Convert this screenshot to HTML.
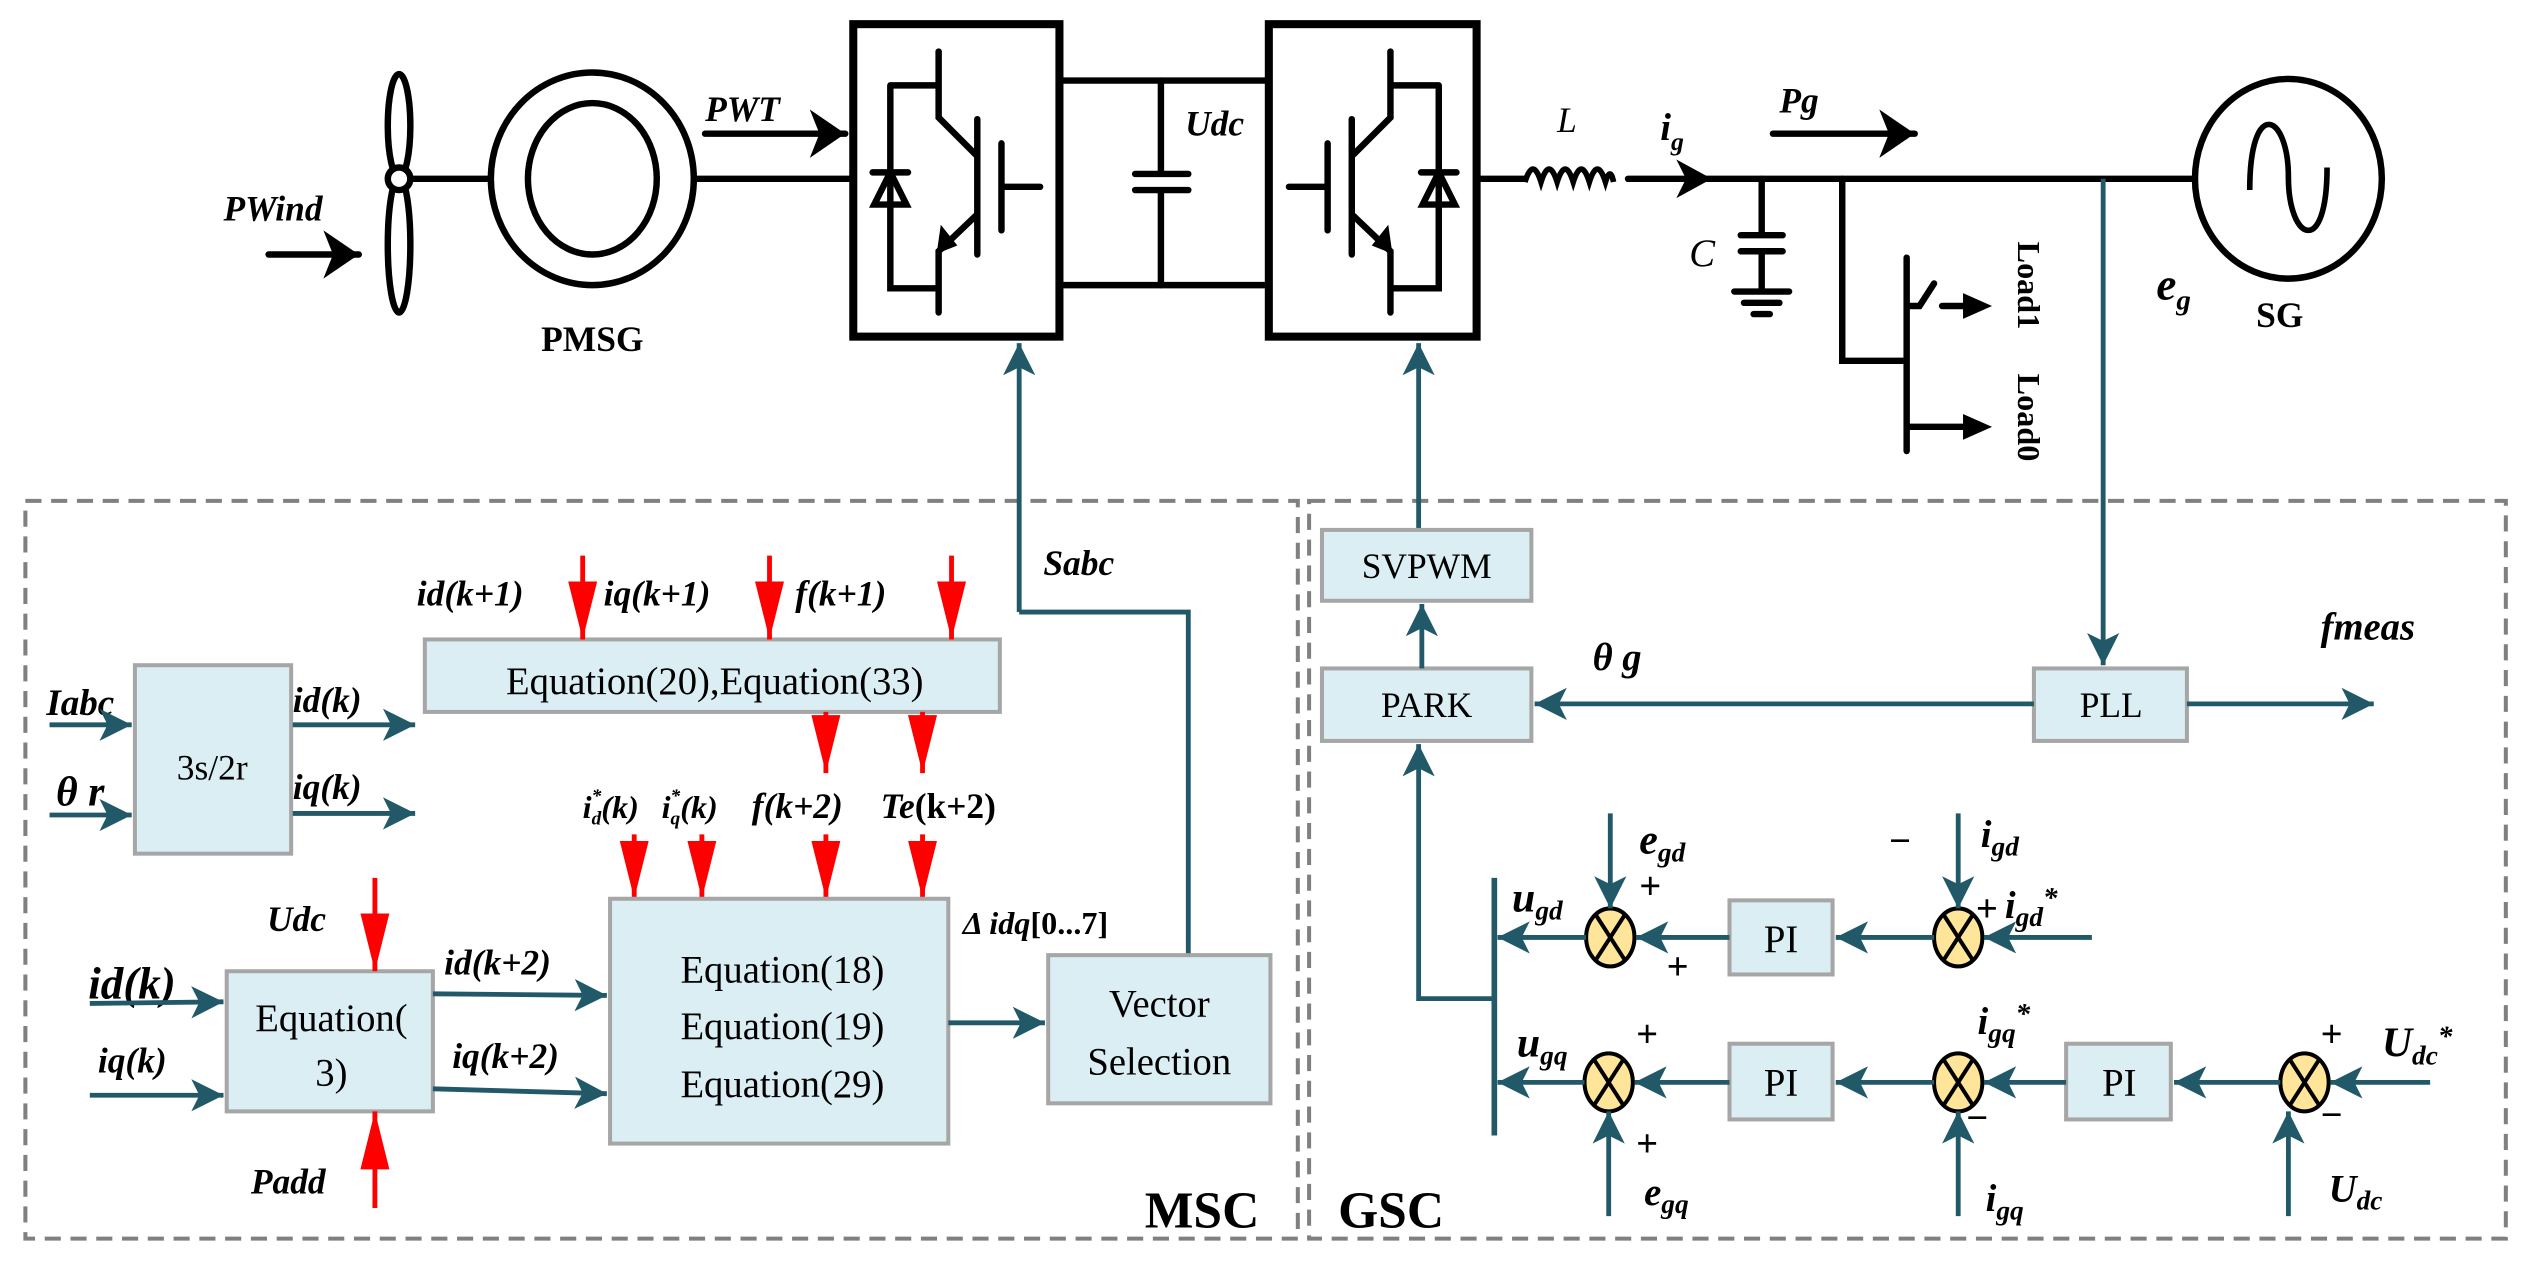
<!DOCTYPE html>
<html><head><meta charset="utf-8"><style>
html,body{margin:0;padding:0;background:#fff;}
svg{display:block;}
text{font-family:"Liberation Serif",serif;}
.lb{font-weight:bold;font-style:italic;}
.bx{fill:#dbeef4;stroke:#a6a6a6;stroke-width:2.5;}
.t{stroke:#215968;stroke-width:3;fill:none;}
.k{stroke:#000;stroke-width:4;fill:none;stroke-linecap:round;}
.r{stroke:#ff0000;stroke-width:3;}
</style></head><body>
<svg width="2528" height="1266" viewBox="0 0 1568 786" xmlns="http://www.w3.org/2000/svg" font-family="Liberation Serif, serif">
<defs>
<marker id="ta" markerUnits="userSpaceOnUse" markerWidth="24" markerHeight="20" refX="20" refY="10" orient="auto"><path d="M0,0 L20,10 L0,20 L5,10 Z" fill="#215968"/></marker>
<marker id="ra" markerUnits="userSpaceOnUse" markerWidth="40" markerHeight="22" refX="36" refY="10" orient="auto"><path d="M0,1 L36,10 L0,19 Z" fill="#ff0000"/></marker>
<marker id="ka" markerUnits="userSpaceOnUse" markerWidth="24" markerHeight="30" refX="22" refY="15" orient="auto"><path d="M0,0 L22,15 L0,30 L6,15 Z" fill="#000"/></marker>
<g id="igbt">
 <path class="k" d="M582,32 V73 L605,96 M606,74 V158 M605,134 L582,156 V194 M552,53 H582 M552,53 V179 H582 M621,89 V143 M621,116 H645" />
 <path d="M582,156 L584,142 L592,152 Z" fill="#000" stroke="#000" stroke-width="2"/>
 <path class="k" d="M541,107 H563 M552,107 L542,127 H562 Z" />
</g>
</defs>

<rect x="15" y="311" width="790" height="458" fill="none" stroke="#808080" stroke-width="2.5" stroke-dasharray="10,6"/>
<rect x="812" y="311" width="743" height="458" fill="none" stroke="#808080" stroke-width="2.5" stroke-dasharray="10,6"/>

<ellipse cx="247" cy="78" rx="7" ry="32" class="k"/>
<ellipse cx="247" cy="152" rx="7" ry="42" class="k"/>
<circle cx="247" cy="111" r="7" fill="#fff" stroke="#000" stroke-width="4"/>
<line x1="254" y1="111" x2="303" y2="111" class="k"/>
<text x="138" y="137" class="lb" font-size="22">PWind</text>
<line x1="166" y1="158" x2="222" y2="158" class="k" marker-end="url(#ka)"/>
<ellipse cx="367" cy="111" rx="63" ry="66" class="k"/>
<ellipse cx="367" cy="111" rx="40" ry="47" class="k"/>
<text x="367" y="218" text-anchor="middle" font-weight="bold" font-size="22">PMSG</text>
<line x1="430" y1="111" x2="529" y2="111" class="k"/>
<text x="437" y="75" class="lb" font-size="22">PWT</text>
<line x1="437" y1="83" x2="524" y2="83" class="k" marker-end="url(#ka)"/>

<rect x="529" y="15" width="128" height="194" fill="none" stroke="#000" stroke-width="5"/>
<rect x="787" y="15" width="129" height="194" fill="none" stroke="#000" stroke-width="5"/>
<use href="#igbt"/>
<use href="#igbt" transform="translate(1444.5,0) scale(-1,1)"/>
<line x1="657" y1="50" x2="787" y2="50" class="k"/>
<line x1="657" y1="177" x2="787" y2="177" class="k"/>
<path class="k" d="M720,50 V108 M704,108 H737 M704,118 H737 M720,118 V177"/>
<text x="735" y="84" class="lb" font-size="22">Udc</text>

<line x1="916" y1="111" x2="946" y2="111" class="k"/>
<path d="M946,113 q5,-16 10,0 q5,-16 10,0 q5,-16 10,0 q5,-16 10,0 q5,-16 10,0 q3,-10 5,0" fill="none" stroke="#000" stroke-width="3.5"/>
<line x1="1010" y1="111" x2="1362" y2="111" class="k"/>
<path d="M1040,99 L1062,111 L1040,123 L1046,111 Z" fill="#000"/>
<text x="966" y="82" font-style="italic" font-size="22">L</text>
<text x="1030" y="87" class="lb" font-size="24">i<tspan font-size="16" dy="6">g</tspan></text>
<text x="1104" y="70" class="lb" font-size="22">Pg</text>
<line x1="1100" y1="83" x2="1188" y2="83" class="k" marker-end="url(#ka)"/>
<path class="k" d="M1093,111 V146 M1080,146 H1106 M1080,156 H1106 M1093,156 V181 M1076,181 H1110 M1082,188 H1104 M1088,195 H1098"/>
<text x="1048" y="165" font-style="italic" font-size="24">C</text>
<path class="k" d="M1143,111 V224 H1182"/>
<line x1="1183" y1="160" x2="1183" y2="280" class="k"/>
<path class="k" d="M1183,190 H1191 L1200,176 M1205,190 H1220"/>
<path d="M1218,182 L1236,190 L1218,198 Z" fill="#000"/>
<path class="k" d="M1183,265 H1220"/>
<path d="M1218,257 L1236,265 L1218,273 Z" fill="#000"/>
<text transform="translate(1252,150) rotate(90)" font-weight="bold" font-size="20">Load1</text>
<text transform="translate(1252,232) rotate(90)" font-weight="bold" font-size="20">Load0</text>
<ellipse cx="1420" cy="111" rx="58" ry="62" class="k"/>
<path d="M1396,118 C1396,60 1420,70 1420,110 C1420,150 1444,160 1444,104" fill="none" stroke="#000" stroke-width="3.5"/>
<text x="1338" y="186" class="lb" font-size="28">e<tspan font-size="18" dy="6">g</tspan></text>
<text x="1400" y="203" font-weight="bold" font-size="22">SG</text>

<line x1="632" y1="380" x2="632" y2="213" class="t" marker-end="url(#ta)"/>
<polyline points="632,380 737,380 737,593" class="t"/>
<text x="647" y="357" class="lb" font-size="22">Sabc</text>
<line x1="880" y1="336" x2="880" y2="213" class="t" marker-end="url(#ta)"/>
<line x1="1305" y1="111" x2="1305" y2="413" class="t" marker-end="url(#ta)"/>

<rect x="263" y="397" width="357" height="45" class="bx"/>
<text x="443" y="431" text-anchor="middle" font-size="24">Equation(20),Equation(33)</text>
<text x="258" y="376" class="lb" font-size="22">id(k+1)</text>
<text x="374" y="376" class="lb" font-size="22">iq(k+1)</text>
<text x="493" y="376" class="lb" font-size="22">f(k+1)</text>
<line x1="361" y1="345" x2="361" y2="397" class="r" marker-end="url(#ra)"/>
<line x1="477" y1="345" x2="477" y2="397" class="r" marker-end="url(#ra)"/>
<line x1="590" y1="345" x2="590" y2="397" class="r" marker-end="url(#ra)"/>
<line x1="512" y1="442" x2="512" y2="480" class="r" marker-end="url(#ra)"/>
<line x1="572" y1="442" x2="572" y2="480" class="r" marker-end="url(#ra)"/>

<rect x="83" y="413" width="97" height="117" class="bx"/>
<text x="131" y="484" text-anchor="middle" font-size="22">3s/2r</text>
<text x="28" y="444" class="lb" font-size="23">Iabc</text>
<line x1="30" y1="450" x2="81" y2="450" class="t" marker-end="url(#ta)"/>
<text x="34" y="500" class="lb" font-size="26">θ r</text>
<line x1="30" y1="506" x2="81" y2="506" class="t" marker-end="url(#ta)"/>
<text x="181" y="442" class="lb" font-size="22">id(k)</text>
<line x1="181" y1="450" x2="257" y2="450" class="t" marker-end="url(#ta)"/>
<text x="181" y="496" class="lb" font-size="22">iq(k)</text>
<line x1="181" y1="505" x2="257" y2="505" class="t" marker-end="url(#ta)"/>

<text x="361" y="508" class="lb" font-size="20">i<tspan font-size="12" dy="4">d</tspan><tspan font-size="12" dy="-14" dx="-6">*</tspan><tspan dy="10">(k)</tspan></text>
<text x="410" y="508" class="lb" font-size="20">i<tspan font-size="12" dy="4">q</tspan><tspan font-size="12" dy="-14" dx="-6">*</tspan><tspan dy="10">(k)</tspan></text>
<text x="466" y="508" class="lb" font-size="22">f(k+2)</text>
<text x="546" y="508" class="lb" font-size="22">Te<tspan font-style="normal">(k+2)</tspan></text>
<line x1="393" y1="518" x2="393" y2="558" class="r" marker-end="url(#ra)"/>
<line x1="435" y1="518" x2="435" y2="558" class="r" marker-end="url(#ra)"/>
<line x1="512" y1="518" x2="512" y2="558" class="r" marker-end="url(#ra)"/>
<line x1="572" y1="518" x2="572" y2="558" class="r" marker-end="url(#ra)"/>

<rect x="378" y="558" width="210" height="152" class="bx"/>
<text x="485" y="610" text-anchor="middle" font-size="24">Equation(18)</text>
<text x="485" y="645" text-anchor="middle" font-size="24">Equation(19)</text>
<text x="485" y="681" text-anchor="middle" font-size="24">Equation(29)</text>
<text x="597" y="580" class="lb" font-size="20">Δ idq<tspan font-style="normal">[0...7]</tspan></text>
<rect x="650" y="593" width="138" height="92" class="bx"/>
<text x="719" y="631" text-anchor="middle" font-size="24">Vector</text>
<text x="719" y="667" text-anchor="middle" font-size="24">Selection</text>
<line x1="588" y1="635" x2="648" y2="635" class="t" marker-end="url(#ta)"/>

<rect x="140" y="603" width="128" height="87" class="bx"/>
<text x="205" y="640" text-anchor="middle" font-size="24">Equation(</text>
<text x="205" y="674" text-anchor="middle" font-size="24">3)</text>
<text x="165" y="578" class="lb" font-size="22">Udc</text>
<line x1="232" y1="545" x2="232" y2="603" class="r" marker-end="url(#ra)"/>
<text x="155" y="741" class="lb" font-size="22">Padd</text>
<line x1="232" y1="750" x2="232" y2="690" class="r" marker-end="url(#ra)"/>
<text x="54" y="620" class="lb" font-size="28">id(k)</text>
<line x1="55" y1="623" x2="138" y2="622" class="t" marker-end="url(#ta)"/>
<text x="60" y="666" class="lb" font-size="22">iq(k)</text>
<line x1="55" y1="680" x2="138" y2="680" class="t" marker-end="url(#ta)"/>
<text x="275" y="605" class="lb" font-size="22">id(k+2)</text>
<line x1="268" y1="617" x2="376" y2="618" class="t" marker-end="url(#ta)"/>
<text x="280" y="663" class="lb" font-size="22">iq(k+2)</text>
<line x1="268" y1="676" x2="376" y2="679" class="t" marker-end="url(#ta)"/>
<text x="710" y="762" font-weight="bold" font-size="32">MSC</text>

<rect x="820" y="329" width="130" height="44" class="bx"/>
<text x="885" y="359" text-anchor="middle" font-size="22">SVPWM</text>
<rect x="820" y="415" width="130" height="45" class="bx"/>
<text x="885" y="445" text-anchor="middle" font-size="22">PARK</text>
<rect x="1262" y="415" width="95" height="45" class="bx"/>
<text x="1310" y="445" text-anchor="middle" font-size="22">PLL</text>
<line x1="882" y1="415" x2="882" y2="375" class="t" marker-end="url(#ta)"/>
<line x1="1262" y1="437" x2="952" y2="437" class="t" marker-end="url(#ta)"/>
<line x1="1357" y1="437" x2="1473" y2="437" class="t" marker-end="url(#ta)"/>
<text x="988" y="416" class="lb" font-size="24">θ g</text>
<text x="1440" y="397" class="lb" font-size="24">fmeas</text>
<polyline points="927,620 880,620 880,462" class="t" marker-end="url(#ta)"/>
<line x1="927" y1="545" x2="927" y2="705" stroke="#215968" stroke-width="3.5"/>

<rect x="1073" y="559" width="64" height="46" class="bx"/>
<text x="1105" y="591" text-anchor="middle" font-size="24">PI</text>
<rect x="1073" y="648" width="64" height="47" class="bx"/>
<text x="1105" y="680" text-anchor="middle" font-size="24">PI</text>
<rect x="1282" y="648" width="65" height="47" class="bx"/>
<text x="1315" y="680" text-anchor="middle" font-size="24">PI</text>

<g stroke="#000" stroke-width="2.5" fill="#ffe599">
<ellipse cx="999" cy="582" rx="15" ry="18"/><ellipse cx="1215" cy="582" rx="15" ry="18"/>
<ellipse cx="998" cy="672" rx="15" ry="18"/><ellipse cx="1215" cy="672" rx="15" ry="18"/>
<ellipse cx="1430" cy="672" rx="15" ry="18"/>
</g>
<g stroke="#000" stroke-width="2.5">
<path d="M990,568 L1008,596 M1008,568 L990,596"/>
<path d="M1206,568 L1224,596 M1224,568 L1206,596"/>
<path d="M989,658 L1007,686 M1007,658 L989,686"/>
<path d="M1206,658 L1224,686 M1224,658 L1206,686"/>
<path d="M1421,658 L1439,686 M1439,658 L1421,686"/>
</g>
<line x1="984" y1="582" x2="929" y2="582" class="t" marker-end="url(#ta)"/>
<line x1="1073" y1="582" x2="1015" y2="582" class="t" marker-end="url(#ta)"/>
<line x1="1200" y1="582" x2="1139" y2="582" class="t" marker-end="url(#ta)"/>
<line x1="1298" y1="582" x2="1231" y2="582" class="t" marker-end="url(#ta)"/>
<line x1="999" y1="505" x2="999" y2="564" class="t" marker-end="url(#ta)"/>
<line x1="1215" y1="505" x2="1215" y2="564" class="t" marker-end="url(#ta)"/>
<line x1="983" y1="672" x2="929" y2="672" class="t" marker-end="url(#ta)"/>
<line x1="1073" y1="672" x2="1014" y2="672" class="t" marker-end="url(#ta)"/>
<line x1="1200" y1="672" x2="1139" y2="672" class="t" marker-end="url(#ta)"/>
<line x1="1282" y1="672" x2="1231" y2="672" class="t" marker-end="url(#ta)"/>
<line x1="1415" y1="672" x2="1349" y2="672" class="t" marker-end="url(#ta)"/>
<line x1="1508" y1="672" x2="1446" y2="672" class="t" marker-end="url(#ta)"/>
<line x1="998" y1="755" x2="998" y2="690" class="t" marker-end="url(#ta)"/>
<line x1="1215" y1="755" x2="1215" y2="690" class="t" marker-end="url(#ta)"/>
<line x1="1420" y1="755" x2="1420" y2="690" class="t" marker-end="url(#ta)"/>

<g class="lb">
<text x="1017" y="530" font-size="26">e<tspan font-size="17" dy="5">gd</tspan></text>
<text x="938" y="566" font-size="26">u<tspan font-size="17" dy="5">gd</tspan></text>
<text x="1229" y="526" font-size="24">i<tspan font-size="17" dy="5">gd</tspan></text>
<text x="1244" y="570" font-size="24">i<tspan font-size="17" dy="5">gd</tspan><tspan font-size="18" dy="-12">*</tspan></text>
<text x="941" y="656" font-size="26">u<tspan font-size="17" dy="5">gq</tspan></text>
<text x="1227" y="642" font-size="24">i<tspan font-size="17" dy="5">gq</tspan><tspan font-size="18" dy="-12">*</tspan></text>
<text x="1478" y="656" font-size="26">U<tspan font-size="17" dy="5">dc</tspan><tspan font-size="18" dy="-12">*</tspan></text>
<text x="1020" y="748" font-size="24">e<tspan font-size="17" dy="5">gq</tspan></text>
<text x="1232" y="752" font-size="24">i<tspan font-size="17" dy="5">gq</tspan></text>
<text x="1445" y="746" font-size="24">U<tspan font-size="17" dy="5">dc</tspan></text>
</g>
<g font-family="Liberation Sans, sans-serif" font-weight="bold" font-size="24">
<text x="1017" y="558">+</text><text x="1034" y="608">+</text>
<text x="1172" y="530">−</text><text x="1226" y="572">+</text>
<text x="1015" y="650">+</text><text x="1015" y="718">+</text>
<text x="1220" y="702">−</text>
<text x="1440" y="650">+</text><text x="1440" y="700">−</text>
</g>
<text x="830" y="762" font-weight="bold" font-size="32">GSC</text>
</svg>
</body></html>
